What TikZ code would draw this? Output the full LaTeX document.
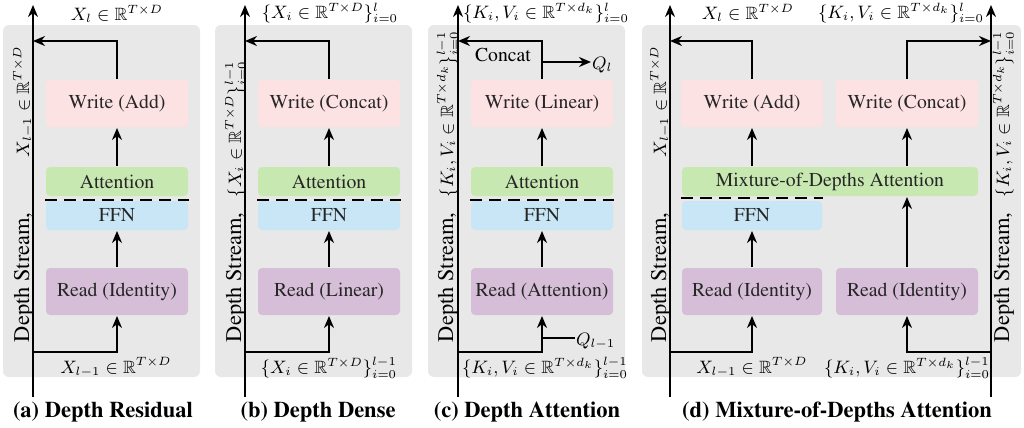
\documentclass[tikz,border=0pt]{standalone}
\usepackage{amssymb}
\usepackage[T1]{fontenc}
\usepackage{times}
\usepackage{pgf,tikz}
\usetikzlibrary{arrows,arrows.meta}

\definecolor{bggray}{HTML}{E8E8E8}
\definecolor{wpink}{HTML}{FDE2E4}
\definecolor{agreen}{HTML}{C8E8B2}
\definecolor{fblue}{HTML}{C8E6F5}
\definecolor{rpurple}{HTML}{D6BED8}
\newcommand\boxfont{\fontsize{9.85}{11.8}\selectfont}
\newcommand\mathfont{\fontsize{8.9}{10.7}\selectfont}
\newcommand\sidefont{\fontsize{11.2}{13.4}\selectfont}
\newcommand\capfont{\fontsize{11.25}{13.5}\selectfont}

\begin{document}
\begin{tikzpicture}[x=0.5pt, y=-0.5pt, line width=1pt,
  >={Stealth[length=6pt,width=5pt]},
  panel/.style={fill=bggray, rounded corners=3pt},
  blk/.style={rounded corners=2pt, inner sep=0pt, minimum width=71pt, font=\boxfont, text=black!85},
  wbox/.style={blk, fill=wpink, minimum height=23.5pt},
  abox/.style={blk, fill=agreen, minimum height=14.5pt},
  fbox/.style={blk, fill=fblue, minimum height=14.5pt},
  rbox/.style={blk, fill=rpurple, minimum height=23.5pt},
  dashline/.style={dash pattern=on 6pt off 3.5pt},
  lbl/.style={font=\boxfont, inner sep=1pt},
  mlbl/.style={font=\mathfont, inner sep=0pt},
  side/.style={font=\sidefont, inner sep=0pt, rotate=90, anchor=base west},
  sidemath/.style={mlbl, rotate=90, anchor=base west},
  captext/.style={font=\capfont\bfseries}]
\useasboundingbox (0,0) rectangle (1024,428);

\fill[panel] (3,25) rectangle (200,377);
\fill[panel] (215,25) rectangle (412,377);
\fill[panel] (428,25) rectangle (625,377);
\fill[panel] (642,25) rectangle (1021,377);

% (a) depth residual
\node[wbox] (wa) at (117,103.5) {Write (Add)};
\node[abox] (aa) at (117,181.5) {Attention};
\node[fbox] (fa) at (117,215.5) {FFN};
\node[rbox] (ra) at (117,291.5) {Read (Identity)};
\draw[dashline] ([yshift=-1.25pt]aa.south west) -- ([yshift=-1.25pt]aa.south east);
\draw[->] (ra) -- (fa);
\draw[->] (aa) -- (wa);
\coordinate (sa0) at (33,397);
\coordinate (sa1) at (33,5);
\coordinate (la) at (33,41);
\coordinate (ba) at (33,352);
\draw[->] (sa0) -- (sa1);
\draw[->] (wa) |- (la);
\draw[->] (ba) -| (ra);
\node[mlbl] (ta) at (117,14) {$X_l \in \mathbb{R}^{T\times D}$};
\node[mlbl] (da) at (116,367) {$X_{l-1} \in \mathbb{R}^{T\times D}$};
\node[side] (sta) at (29,343) {Depth Stream,};
\node[sidemath] (sma) at (29,158) {$X_{l-1} \in \mathbb{R}^{T\times D}$};
\node[captext] (ca) at (103,412) {(a) Depth Residual};

% (b) depth dense
\node[wbox] (wb) at (329,103.5) {Write (Concat)};
\node[abox] (ab) at (329,181.5) {Attention};
\node[fbox] (fb) at (329,215.5) {FFN};
\node[rbox] (rb) at (329,291.5) {Read (Linear)};
\draw[dashline] ([yshift=-1.25pt]ab.south west) -- ([yshift=-1.25pt]ab.south east);
\draw[->] (rb) -- (fb);
\draw[->] (ab) -- (wb);
\coordinate (sb0) at (245,397);
\coordinate (sb1) at (245,5);
\coordinate (lb) at (245,41);
\coordinate (bb) at (245,352);
\draw[->] (sb0) -- (sb1);
\draw[->] (wb) |- (lb);
\draw[->] (bb) -| (rb);
\node[mlbl] (tb) at (330,13) {$\{X_i \in \mathbb{R}^{T\times D}\}_{i=0}^{l}$};
\node[mlbl] (db) at (329,368) {$\{X_i \in \mathbb{R}^{T\times D}\}_{i=0}^{l-1}$};
\node[side] (stb) at (241,343) {Depth Stream,};
\node[sidemath] (smb) at (241,198) {$\{X_i \in \mathbb{R}^{T\times D}\}_{i=0}^{l-1}$};
\node[captext] (cb) at (318,412) {(b) Depth Dense};

% (c) depth attention
\node[wbox] (wc) at (542,103.5) {Write (Linear)};
\node[abox] (ac) at (542,181.5) {Attention};
\node[fbox] (fc) at (542,215.5) {FFN};
\node[rbox] (rc) at (542,291.5) {Read (Attention)};
\draw[dashline] ([yshift=-1.25pt]ac.south west) -- ([yshift=-1.25pt]ac.south east);
\draw[->] (rc) -- (fc);
\draw[->] (ac) -- (wc);
\coordinate (sc0) at (458,397);
\coordinate (sc1) at (458,5);
\coordinate (lc) at (458,41);
\coordinate (bc) at (458,352);
\coordinate (qc) at (542,62);
\coordinate (qd) at (542,338);
\draw[->] (sc0) -- (sc1);
\draw[->] (wc) |- (lc);
\draw[->] (bc) -| (rc);
\node[mlbl, anchor=west] (ql) at (591,65) {$Q_l$};
\node[mlbl, anchor=west] (qlm) at (575,341) {$Q_{l-1}$};
\draw[->] (qc) -- (qc -| ql.west);
\draw (qd) -- (qd -| qlm.west);
\node[lbl] (conc) at (503,55) {Concat};
\node[mlbl] (tc) at (546,13) {$\{K_i, V_i \in \mathbb{R}^{T\times d_k}\}_{i=0}^{l}$};
\node[mlbl] (dc) at (545,368) {$\{K_i, V_i \in \mathbb{R}^{T\times d_k}\}_{i=0}^{l-1}$};
\node[side] (stc) at (453,343) {Depth Stream,};
\node[sidemath] (smc) at (453,198) {$\{K_i, V_i \in \mathbb{R}^{T\times d_k}\}_{i=0}^{l-1}$};
\node[captext] (cc) at (527,412) {(c) Depth Attention};

% (d) mixture-of-depths attention
\node[wbox] (wd) at (752,103.5) {Write (Add)};
\node[wbox] (we) at (907,103.5) {Write (Concat)};
\node[abox, minimum width=148pt] (ad) at (830,181.5) {Mixture-of-Depths Attention};
\node[fbox, minimum width=70pt] (fd) at (752,215.5) {FFN};
\node[rbox, minimum width=70pt] (rd) at (752,291.5) {Read (Identity)};
\node[rbox] (re) at (907,291.5) {Read (Identity)};
\draw[dashline] ([yshift=1.25pt]fd.north west) -- ([yshift=1.25pt]fd.north east);
\draw[->] (rd) -- (fd);
\draw[->] (re) -- (re |- ad.south);
\draw[->] (ad.north -| wd) -- (wd);
\draw[->] (ad.north -| we) -- (we);
\coordinate (sd0) at (670,397);
\coordinate (sd1) at (670,5);
\coordinate (se0) at (991,397);
\coordinate (se1) at (991,5);
\coordinate (ld) at (670,41);
\coordinate (le) at (991,41);
\coordinate (bd) at (670,352);
\coordinate (be) at (991,352);
\draw[->] (sd0) -- (sd1);
\draw[->] (se0) -- (se1);
\draw[->] (wd) |- (ld);
\draw[->] (we) |- (le);
\draw[->] (bd) -| (rd);
\draw[->] (be) -| (re);
\node[mlbl] (td) at (748,13) {$X_l \in \mathbb{R}^{T\times D}$};
\node[mlbl] (te) at (901,13) {$\{K_i, V_i \in \mathbb{R}^{T\times d_k}\}_{i=0}^{l}$};
\node[mlbl] (dd) at (752,367) {$X_{l-1} \in \mathbb{R}^{T\times D}$};
\node[mlbl] (de) at (907,368) {$\{K_i, V_i \in \mathbb{R}^{T\times d_k}\}_{i=0}^{l-1}$};
\node[side] (std) at (666,343) {Depth Stream,};
\node[sidemath] (smd) at (666,158) {$X_{l-1} \in \mathbb{R}^{T\times D}$};
\node[side] (ste) at (1009,343) {Depth Stream,};
\node[sidemath] (sme) at (1009,198) {$\{K_i, V_i \in \mathbb{R}^{T\times d_k}\}_{i=0}^{l-1}$};
\node[captext] (cd) at (837,412) {(d) Mixture-of-Depths Attention};
\end{tikzpicture}
\end{document}
